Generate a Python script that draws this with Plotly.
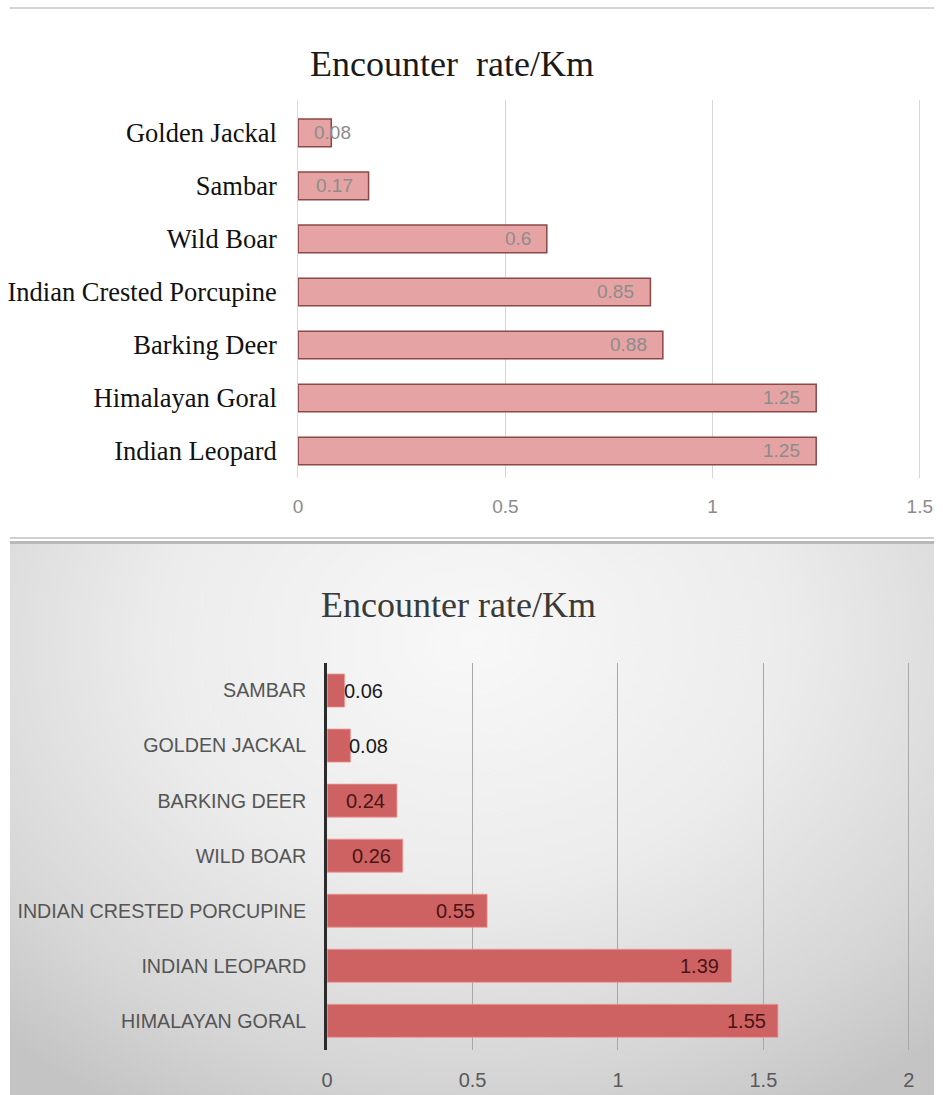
import base64
import plotly.graph_objects as go

# Survey 1: encounter rate per km (top chart, listed top to bottom)
species_a = ["Golden Jackal", "Sambar", "Wild Boar", "Indian Crested Porcupine",
             "Barking Deer", "Himalayan Goral", "Indian Leopard"]
rate_a = [0.08, 0.17, 0.6, 0.85, 0.88, 1.25, 1.25]
labels_a = ["0.08", "0.17", "0.6", "0.85", "0.88", "1.25", "1.25"]

# Survey 2: encounter rate per km (bottom chart, listed top to bottom)
species_b = ["SAMBAR", "GOLDEN JACKAL", "BARKING DEER", "WILD BOAR",
             "INDIAN CRESTED PORCUPINE", "INDIAN LEOPARD", "HIMALAYAN GORAL"]
rate_b = [0.06, 0.08, 0.24, 0.26, 0.55, 1.39, 1.55]
labels_b = ["0.06", "0.08", "0.24", "0.26", "0.55", "1.39", "1.55"]

ticks_a = [0, 0.5, 1, 1.5]
ticks_b = [0, 0.5, 1, 1.5, 2]

W, H = 943, 1095
SERIF = "Liberation Serif, Times New Roman, serif"
SANS = "Liberation Sans, Arial, sans-serif"


def px_x(p):
    # horizontal page position -> paper fraction
    return (p - 6.2) / 0.983 / W


def px_y(p):
    return 1 - p / H


fig = go.Figure()

fig.add_trace(go.Bar(
    x=rate_a, y=species_a, orientation="h", width=0.52,
    marker=dict(color="rgb(230,163,163)",
                line=dict(color="rgb(140,72,72)", width=1.5)),
    xaxis="x", yaxis="y", hoverinfo="skip", showlegend=False,
))

fig.add_trace(go.Bar(
    x=rate_b, y=species_b, orientation="h", width=0.6,
    marker=dict(color="rgb(206,98,98)",
                line=dict(color="rgba(240,150,150,0.8)", width=1)),
    xaxis="x2", yaxis="y2", hoverinfo="skip", showlegend=False,
))

annotations = []

# value labels, top chart
for s, v, t in zip(species_a, rate_a, labels_a):
    if v < 0.1:
        annotations.append(dict(x=0, y=s, xref="x", yref="y", text=t,
                                xanchor="left", xshift=14, showarrow=False,
                                font=dict(family=SANS, size=19, color="#8c8c8c")))
    else:
        annotations.append(dict(x=v, y=s, xref="x", yref="y", text=t,
                                xanchor="right", xshift=-14, showarrow=False,
                                font=dict(family=SANS, size=19, color="#8c8c8c")))

# value labels, bottom chart
for s, v, t in zip(species_b, rate_b, labels_b):
    if v < 0.1:
        annotations.append(dict(x=v, y=s, xref="x2", yref="y2", text=t,
                                xanchor="left", xshift=-3, showarrow=False,
                                font=dict(family=SANS, size=20, color="#1a1a1a")))
    else:
        annotations.append(dict(x=v, y=s, xref="x2", yref="y2", text=t,
                                xanchor="right", xshift=-10, showarrow=False,
                                font=dict(family=SANS, size=20, color="#4a1414")))

# chart titles
annotations.append(dict(x=px_x(452), y=px_y(64), xref="paper", yref="paper",
                        text="Encounter&nbsp;&nbsp;rate/Km", showarrow=False,
                        xanchor="center", yanchor="middle",
                        font=dict(family=SERIF, size=36, color="#1a1a1a")))
annotations.append(dict(x=px_x(458), y=px_y(605), xref="paper", yref="paper",
                        text="Encounter rate/Km", showarrow=False,
                        xanchor="center", yanchor="middle",
                        font=dict(family=SERIF, size=36, color="#3a3a3a")))

# soft radial backdrop for the lower chart
svg = (
    '<svg xmlns="http://www.w3.org/2000/svg" width="933" height="553" '
    'preserveAspectRatio="none" viewBox="0 0 933 553">'
    '<defs><radialGradient id="g" cx="50%" cy="18%" r="75%" '
    'gradientTransform="translate(0.5 0.18) scale(1 1.3) translate(-0.5 -0.18)">'
    '<stop offset="0" stop-color="#f8f8f8"/>'
    '<stop offset="0.45" stop-color="#ececec"/>'
    '<stop offset="0.8" stop-color="#d6d6d6"/>'
    '<stop offset="1" stop-color="#c4c4c4"/>'
    '</radialGradient></defs>'
    '<rect width="933" height="553" fill="url(#g)"/>'
    '<rect width="933" height="3" fill="#b8b8b8"/>'
    '</svg>'
)
src = "data:image/svg+xml;base64," + base64.b64encode(svg.encode()).decode()

x_left = px_x(10)

fig.update_layout(
    width=W, height=H, autosize=False,
    margin=dict(l=0, r=0, t=0, b=0),
    paper_bgcolor="white", plot_bgcolor="rgba(0,0,0,0)",
    bargap=0.4,
    annotations=annotations,
    images=[dict(source=src, xref="paper", yref="paper",
                 x=x_left, y=px_y(541), sizex=1 - x_left, sizey=(H - 541) / H,
                 xanchor="left", yanchor="top", sizing="stretch", layer="below")],
    shapes=[
        dict(type="line", xref="paper", yref="paper", x0=x_left, x1=1,
             y0=px_y(8), y1=px_y(8), line=dict(color="#d4d4d4", width=2)),
        dict(type="line", xref="paper", yref="paper", x0=x_left, x1=1,
             y0=px_y(538), y1=px_y(538), line=dict(color="#cfcfcf", width=2)),
    ],
    xaxis=dict(domain=[px_x(298), px_x(298) + (px_x(919) - px_x(298)) * 1.51 / 1.5],
               range=[0, 1.51],
               tickvals=ticks_a, ticktext=[f"{t:g}" for t in ticks_a],
               showgrid=True, gridcolor="#d6d6d6", gridwidth=1,
               zeroline=False, showline=False, ticks="",
               ticklabelstandoff=15,
               tickfont=dict(family=SANS, size=19, color="#8c8c8c"),
               anchor="y", fixedrange=True),
    yaxis=dict(domain=[px_y(478), px_y(100)],
               categoryorder="array", categoryarray=species_a,
               range=[6.51, -0.62],
               showline=True, linecolor="#d9d9d9", linewidth=1,
               showgrid=False, ticks="", ticklabelstandoff=15,
               tickfont=dict(family=SERIF, size=26.5, color="#111111"),
               anchor="x", fixedrange=True),
    xaxis2=dict(domain=[px_x(327), px_x(327) + (px_x(908) - px_x(327)) * 2.014 / 2],
                range=[0, 2.014],
                tickvals=ticks_b, ticktext=[f"{t:g}" for t in ticks_b],
                showgrid=True, gridcolor="#a8a8a8", gridwidth=1,
                zeroline=False, showline=False, ticks="",
                ticklabelstandoff=16,
                tickfont=dict(family=SANS, size=20, color="#595959"),
                anchor="y2", fixedrange=True),
    yaxis2=dict(domain=[px_y(1050), px_y(663)],
                categoryorder="array", categoryarray=species_b,
                range=[6.53, -0.5],
                showline=True, linecolor="#2b2b2b", linewidth=3,
                showgrid=False, ticks="", ticklabelstandoff=14,
                tickfont=dict(family=SANS, size=19.7, color="#555555"),
                anchor="x2", fixedrange=True),
)

fig.write_html("out.html", config={"responsive": False, "displayModeBar": False})
